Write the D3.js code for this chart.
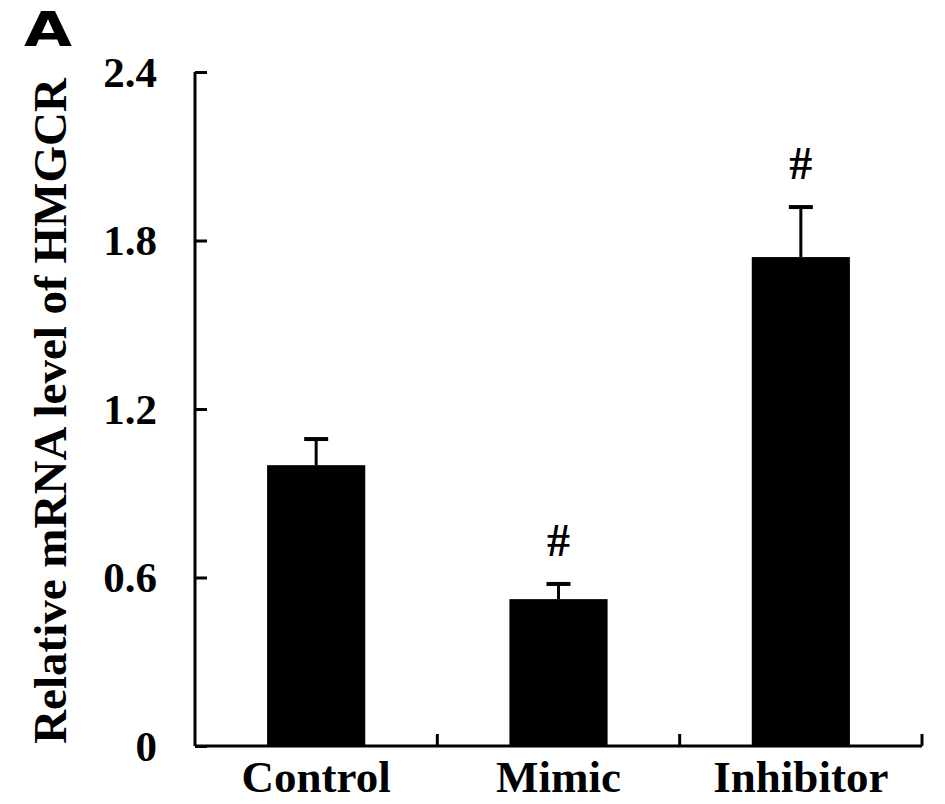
<!DOCTYPE html>
<html>
<head>
<meta charset="utf-8">
<script src="https://cdn.jsdelivr.net/npm/d3@7"></script>
<style>
  body { margin: 0; background: #fff; }
  text { font-family: "Liberation Serif", "Times New Roman", serif; font-weight: bold; }
</style>
</head>
<body>
<div id="main"></div>
<script>
const categories = ["Control", "Mimic", "Inhibitor"];
const means = [1.0, 0.523, 1.741];
const errors = [0.093, 0.054, 0.178];
const marks = ["", "#", "#"];
const yTicks = [0, 0.6, 1.2, 1.8, 2.4];

const ctx = {
    SVG_W: 945,
    SVG_H: 804,
    left: 195,
    right: 922,
    top: 72,
    bottom: 746,
};

function createViz() {
    const svgEl = d3.select("#main").append("svg")
        .attr("width", ctx.SVG_W)
        .attr("height", ctx.SVG_H);

    const x = d3.scaleBand()
        .domain(categories)
        .range([ctx.left, ctx.right])
        .paddingInner(0.595)
        .paddingOuter(0.2975);

    const y = d3.scaleLinear()
        .domain([0, 2.4])
        .range([ctx.bottom, ctx.top]);

    // bars
    svgEl.append("g").selectAll("rect")
        .data(categories)
        .enter().append("rect")
        .attr("x", d => x(d))
        .attr("y", (d, i) => y(means[i]))
        .attr("width", x.bandwidth())
        .attr("height", (d, i) => y(0) - y(means[i]))
        .style("fill", "#000");

    // error bars (upper only)
    const err = svgEl.append("g").selectAll("g")
        .data(categories)
        .enter().append("g")
        .attr("transform", d => `translate(${x(d) + x.bandwidth() / 2},0)`);
    err.append("line")
        .attr("y1", (d, i) => y(means[i]))
        .attr("y2", (d, i) => y(means[i] + errors[i]))
        .style("stroke", "#000").style("stroke-width", 3);
    err.append("line")
        .attr("x1", -12).attr("x2", 12)
        .attr("y1", (d, i) => y(means[i] + errors[i]))
        .attr("y2", (d, i) => y(means[i] + errors[i]))
        .style("stroke", "#000").style("stroke-width", 4);
    err.append("text")
        .attr("text-anchor", "middle")
        .attr("y", (d, i) => y(means[i] + errors[i]) - 28)
        .style("font-size", "46px")
        .text((d, i) => marks[i]);

    // y axis
    const yAxis = svgEl.append("g")
        .attr("transform", `translate(${ctx.left},0)`)
        .call(d3.axisRight(y).tickValues(yTicks).tickSize(12).tickFormat(d3.format("")));
    yAxis.select(".domain").attr("d", `M0,${ctx.top}V${ctx.bottom}`).style("stroke-width", 3);
    yAxis.selectAll(".tick line").style("stroke-width", 3);
    yAxis.selectAll(".tick text")
        .attr("x", -38)
        .attr("dy", "0.33em")
        .attr("text-anchor", "end")
        .style("font-size", "43px")
        .style("font-family", "Liberation Serif")
        .style("font-weight", "bold")
        .style("fill", "#000");

    // x axis
    const xAxis = svgEl.append("g")
        .attr("transform", `translate(0,${ctx.bottom})`);
    xAxis.append("line")
        .attr("x1", ctx.left).attr("x2", ctx.right)
        .style("stroke", "#000").style("stroke-width", 3);
    const step = x.step();
    xAxis.selectAll(".sep")
        .data(categories)
        .enter().append("line")
        .attr("x1", (d, i) => ctx.left + step * (i + 1))
        .attr("x2", (d, i) => ctx.left + step * (i + 1))
        .attr("y1", 0).attr("y2", -12)
        .style("stroke", "#000").style("stroke-width", 3);
    xAxis.selectAll(".lab")
        .data(categories)
        .enter().append("text")
        .attr("x", d => x(d) + x.bandwidth() / 2)
        .attr("y", 46)
        .attr("text-anchor", "middle")
        .style("font-size", "45px")
        .text(d => d);

    // y title
    svgEl.append("text")
        .attr("transform", `translate(66,${(ctx.top + ctx.bottom) / 2 + 2}) rotate(-90)`)
        .attr("text-anchor", "middle")
        .style("font-size", "47px")
        .text("Relative mRNA level of HMGCR");

    // panel letter
    svgEl.append("text")
        .attr("x", 24).attr("y", 46)
        .style("font-family", "'DejaVu Sans', sans-serif")
        .style("font-weight", "900")
        .style("font-size", "48px")
        .attr("textLength", 48)
        .attr("lengthAdjust", "spacingAndGlyphs")
        .text("A");
}

createViz();
</script>
</body>
</html>
